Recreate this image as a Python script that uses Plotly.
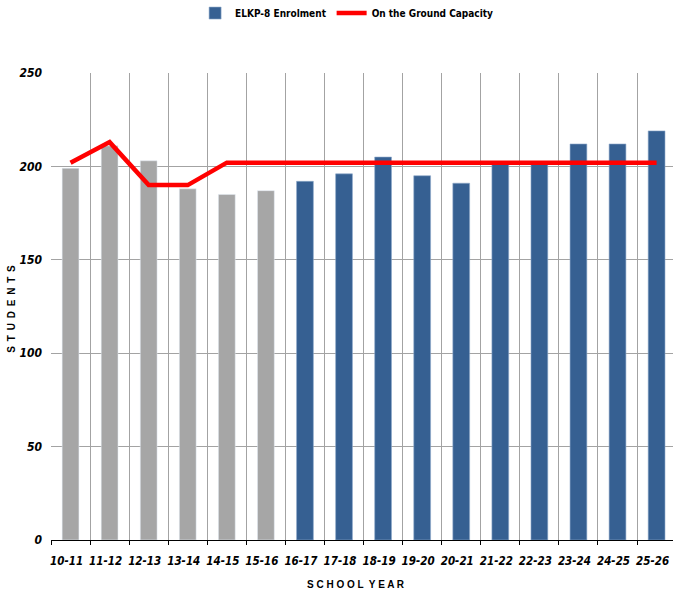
import plotly.graph_objects as go

years = ["10-11", "11-12", "12-13", "13-14", "14-15", "15-16", "16-17", "17-18",
         "18-19", "19-20", "20-21", "21-22", "22-23", "23-24", "24-25", "25-26"]
enrolment = [199, 211, 203, 188, 185, 187, 192, 196, 205, 195, 191, 202, 202, 212, 212, 219]
capacity = [202, 213, 190, 190, 202, 202, 202, 202, 202, 202, 202, 202, 202, 202, 202, 202]
n_actual = 6  # first six years are actual counts (grey), rest projected (blue)

FONT = "Liberation Sans Narrow, Arial Narrow, DejaVu Sans Condensed, Liberation Sans, Arial, sans-serif"
GRID = "#a3a3a3"

fig = go.Figure()
fig.add_trace(go.Bar(
    x=years[:n_actual], y=enrolment[:n_actual], marker=dict(color="#a6a6a6"),
    width=0.43, showlegend=False, hoverinfo="x+y"))
fig.add_trace(go.Bar(
    x=years[n_actual:], y=enrolment[n_actual:], name="ELKP-8 Enrolment",
    marker=dict(color="#366092", line=dict(color="#8eaacb", width=0.6)),
    width=0.43))
fig.add_trace(go.Scatter(
    x=years, y=capacity, mode="lines", name="On the Ground Capacity",
    line=dict(color="#ff0000", width=4.5)))

fig.update_layout(
    width=673, height=594,
    margin=dict(l=50.5, r=0, t=72.5, b=53.5),
    paper_bgcolor="white", plot_bgcolor="white",
    barmode="overlay",
    font=dict(family=FONT, color="#000000", size=11),
    legend=dict(orientation="h", x=0.515, xanchor="center", xref="container",
                y=0.978, yanchor="middle", yref="container",
                font=dict(family=FONT, size=10, weight="bold"),
                itemwidth=30, tracegroupgap=0, traceorder="normal"),
    xaxis=dict(
        type="category", categoryorder="array", categoryarray=years,
        range=[-0.5, 15.42], tickson="boundaries", ticks="outside", ticklen=4,
        tickcolor="#000000", showgrid=True, gridcolor=GRID, gridwidth=1,
        showline=True, linecolor="#000000", linewidth=1.3,
        tickangle=0, automargin=False,
        tickfont=dict(family=FONT, size=11.5, weight="bold", style="italic"),
        ticklabelstandoff=10, ticklabelshift=-4,
    ),
    yaxis=dict(
        range=[0, 250], dtick=50, showgrid=True, gridcolor=GRID, gridwidth=1,
        zeroline=False, showline=False, ticks="", automargin=False,
        tickfont=dict(family=FONT, size=12, weight="bold", style="italic"),
        ticklabelstandoff=8,
    ),
    annotations=[
        dict(text="S C H O O L  Y E A R", xref="paper", yref="paper", x=0.49, y=-0.095,
             xanchor="center", yanchor="middle", showarrow=False,
             font=dict(family="Liberation Sans, Arial, sans-serif", size=10, weight="bold")),
        dict(text="S\u2009 T\u2009 U\u2009 D\u2009 E\u2009 N\u2009 T\u2009 S", xref="paper", yref="paper",
             x=-0.063, y=0.495, xanchor="center", yanchor="middle", showarrow=False, textangle=-90,
             font=dict(family="Liberation Sans, Arial, sans-serif", size=10, weight="bold")),
    ],
)

fig.write_html("out.html", config={"displayModeBar": False},
               post_script="document.body.style.margin='0';")
